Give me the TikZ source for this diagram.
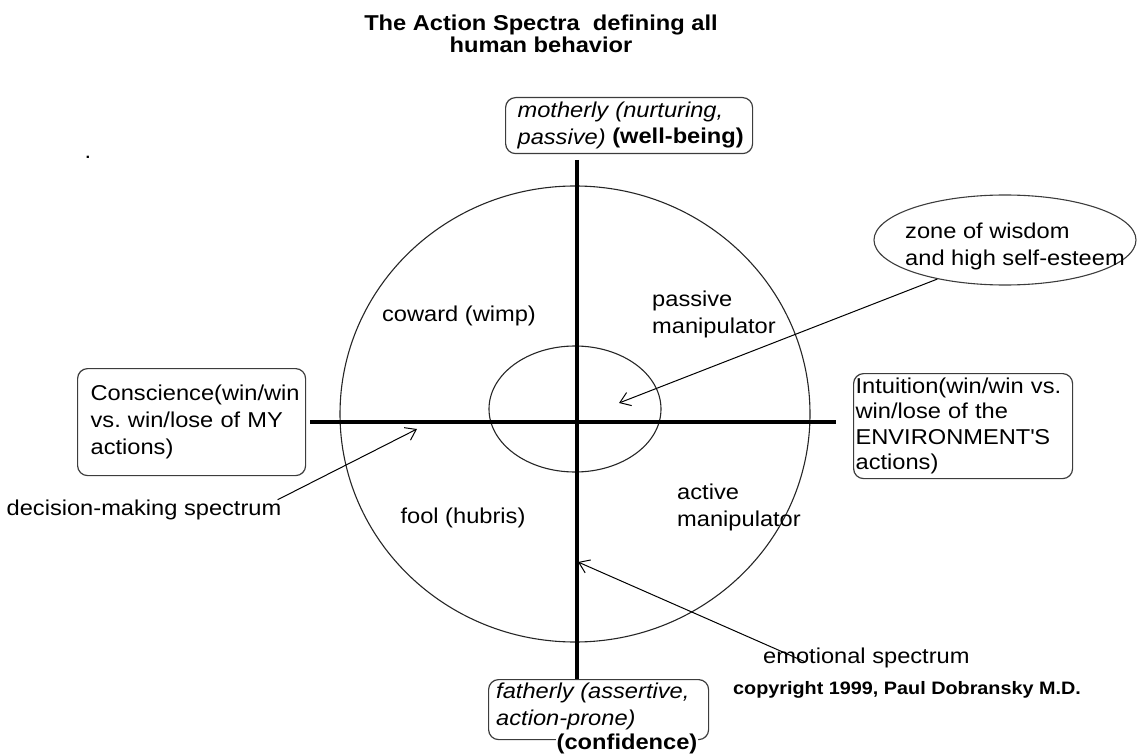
\documentclass[tikz,border=0pt]{standalone}
\usepackage{fontspec}
\setmainfont{Liberation Sans}[FakeStretch=1.1]
\usetikzlibrary{arrows.meta,shapes.geometric}
\definecolor{boxgray}{RGB}{60,60,60}
\newcommand{\bodyfont}{\fontsize{21.5}{27}\selectfont}
\frenchspacing

\begin{document}
\begin{tikzpicture}[x=1pt,y=-1pt,
  txt/.style={font=\bodyfont, align=left, inner sep=0pt},
  box/.style={draw=boxgray, line width=1.2pt, rounded corners=10pt, align=left, anchor=north west, inner ysep=0pt},
  axis/.style={line width=4pt},
  ring/.style={line width=1.1pt, draw=black!85},
  pointer/.style={-{Straight Barb[length=10pt,width=14pt]}, line width=1pt}]
\useasboundingbox (0,0) rectangle (1138,754);

% title
\node[font=\bfseries\fontsize{21.5}{22.5}\selectfont, align=center] (title) at (541,34) {The Action Spectra\ \ defining all\\human behavior};
\node[txt] (dot) at (88,157) {.};

% circles
\draw[ring] (575,414) ellipse [x radius=235, y radius=228];
\draw[ring] (575,409) ellipse [x radius=86, y radius=63];

% axes
\coordinate (north) at (577,160);
\coordinate (south) at (577,680);
\coordinate (west) at (310,422);
\coordinate (east) at (836,422);
\draw[axis] (north) -- (south);
\draw[axis] (west) -- (east);

% end boxes
\node[box, minimum width=247, minimum height=56, text width=223, inner xsep=12pt, font=\bodyfont\itshape] (mother) at (505,97) {motherly (nurturing,\\passive)};
\node[txt, font=\bodyfont\bfseries, fill=white, inner sep=1pt] (wellbeing) at (678,138) {(well-being)};
\node[box, minimum width=220, minimum height=60] (father) at (488,679) {};
\node[txt, font=\bodyfont\itshape, anchor=north west] (fathertext) at (496,683) {fatherly (assertive,\\action-prone)};
\node[txt, font=\bodyfont\bfseries, fill=white, inner sep=1pt] (confidence) at (627,744) {(confidence)};
\node[box, minimum width=228, minimum height=107, text width=202, inner xsep=13pt, font=\bodyfont] (conscience) at (77,368) {Conscience(win/win\\vs. win/lose of MY\\actions)};
\node[box, minimum width=219, minimum height=105, text width=215, inner xsep=2pt, font=\fontsize{21.5}{25.5}\selectfont] (intuition) at (853,373) {Intuition(win/win vs.\\win/lose of the\\ENVIRONMENT\textquotesingle S\\actions)};

% quadrant labels
\node[txt] (coward) at (459,316) {coward (wimp)};
\node[txt, anchor=west] (passive) at (652,314) {passive\\manipulator};
\node[txt] (fool) at (463,518) {fool (hubris)};
\node[txt, anchor=west] (active) at (677,507) {active\\manipulator};

% wisdom zone
\node[ellipse, draw=boxgray, line width=1.1pt, minimum width=262, minimum height=90] (wisdom) at (1005,240) {};
\node[txt, anchor=west] (zone) at (905,246) {zone of wisdom\\and high self-esteem};

% spectrum labels and pointers
\node[txt] (decision) at (144,510) {decision-making spectrum};
\node[txt, anchor=west] (emotion) at (763,658) {emotional spectrum};
\node[font=\bfseries\fontsize{18}{22}\selectfont, anchor=west, inner sep=0pt] (copyright) at (733,690) {copyright 1999, Paul Dobransky M.D.};

\coordinate (wisetip) at (619,403);
\coordinate (dmtip) at (417,429);
\coordinate (emotip) at (578,562);
\draw[pointer] (wisdom.210) -- (wisetip);
\draw[pointer] ([xshift=-4pt]decision.north east) -- (dmtip);
\draw[pointer] ([xshift=42pt,yshift=-14pt]emotion.north west) -- (emotip);
\end{tikzpicture}
\end{document}
